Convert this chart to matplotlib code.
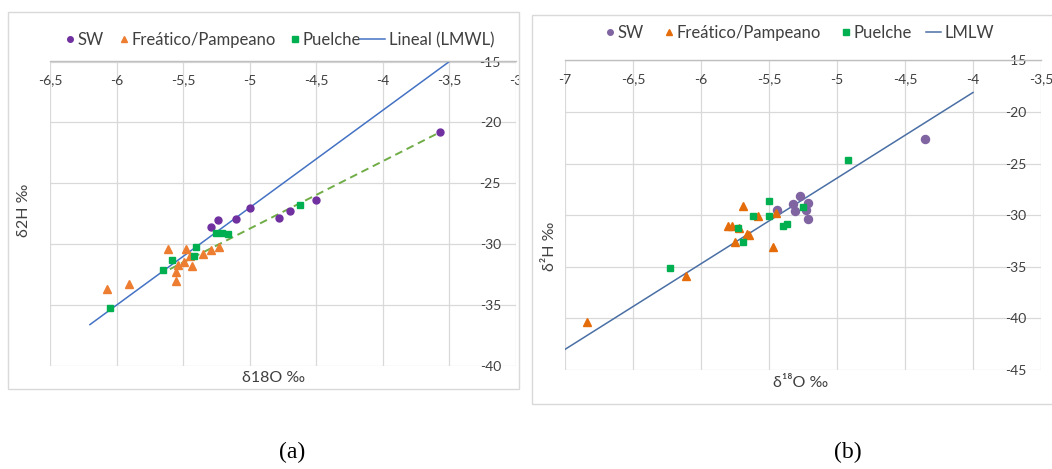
import matplotlib
matplotlib.use("Agg")
import matplotlib.pyplot as plt
from matplotlib.patches import Rectangle
from matplotlib.lines import Line2D
from matplotlib.legend_handler import HandlerLine2D
import matplotlib.transforms as mtrans

# ---------------- data: panel (a) ----------------
sw_a_x = [-5.29, -5.24, -5.10, -5.00, -4.78, -4.70, -4.50, -3.57]
sw_a_y = [-28.6, -28.0, -27.9, -27.0, -27.85, -27.3, -26.35, -20.8]
fp_a_x = [-6.07, -5.91, -5.61, -5.48, -5.45, -5.54, -5.49, -5.43, -5.55, -5.55, -5.35, -5.29, -5.23]
fp_a_y = [-33.65, -33.3, -30.4, -30.4, -31.0, -31.7, -31.5, -31.8, -32.3, -33.0, -30.8, -30.5, -30.2]
pu_a_x = [-6.05, -5.65, -5.58, -5.42, -5.40, -5.25, -5.21, -5.16, -4.62]
pu_a_y = [-35.2, -32.1, -31.3, -31.0, -30.2, -29.05, -29.05, -29.2, -26.8]
lmwl_a_x = [-6.2, -3.5]
lmwl_a_y = [-36.6, -15.0]
trend_a_x = [-5.6, -3.57]
trend_a_y = [-32.05, -20.8]
xticks_a = [-6.5, -6, -5.5, -5, -4.5, -4, -3.5, -3]
xlabels_a = ["-6,5", "-6", "-5,5", "-5", "-4,5", "-4", "-3,5", "-3"]
yticks_a = [-40, -35, -30, -25, -20, -15]
legend_a = ["SW", "Freático/Pampeano", "Puelche", "Lineal (LMWL)"]

# ---------------- data: panel (b) ----------------
sw_b_x = [-5.44, -5.32, -5.27, -5.31, -5.21, -5.23, -5.21, -4.35]
sw_b_y = [-29.5, -28.9, -28.1, -29.6, -28.8, -29.45, -30.4, -22.6]
fp_b_x = [-5.69, -5.58, -5.45, -5.80, -5.77, -5.72, -5.66, -5.65, -5.75, -5.47, -6.11, -6.84]
fp_b_y = [-29.1, -30.1, -29.8, -31.07, -31.0, -31.2, -31.8, -31.9, -32.6, -33.1, -35.9, -40.3]
pu_b_x = [-5.50, -5.62, -5.50, -5.73, -5.69, -5.40, -5.37, -5.25, -6.23, -4.92]
pu_b_y = [-28.64, -30.1, -30.1, -31.2, -32.6, -31.07, -30.8, -29.2, -35.08, -24.66]
lmlw_b_x = [-7.0, -4.0]
lmlw_b_y = [-43.0, -18.1]
xticks_b = [-7, -6.5, -6, -5.5, -5, -4.5, -4, -3.5]
xlabels_b = ["-7", "-6,5", "-6", "-5,5", "-5", "-4,5", "-4", "-3,5"]
yticks_b = [-45, -40, -35, -30, -25, -20, -15]
legend_b = ["SW", "Freático/Pampeano", "Puelche", "LMLW"]

FONT = ["Lato", "DejaVu Sans"]
plt.rcParams["font.family"] = FONT
TXT = "#404040"
GRID = "#D9D9D9"

W, H = 1052, 469
fig = plt.figure(figsize=(W / 100, H / 100), dpi=100)


def fx(px):
    return px / W


def fy(py):
    return 1 - py / H


class LongLine(HandlerLine2D):
    """Legend line that extends to the left of its handle box."""

    def __init__(self, extra_pt, **kw):
        super().__init__(**kw)
        self.extra = extra_pt

    def create_artists(self, legend, orig_handle, xdescent, ydescent, width, height,
                       fontsize, trans):
        y = height / 2 - ydescent
        ln = Line2D([-xdescent - self.extra, width - xdescent], [y, y])
        self.update_prop(ln, orig_handle, legend)
        ln.set_transform(trans)
        return [ln]


def style_axes(ax, xt, xl, yt, xlim, ylim):
    ax.set_xlim(*xlim)
    ax.set_ylim(*ylim)
    ax.set_xticks(xt)
    ax.set_xticklabels(xl)
    ax.set_yticks(yt)
    ax.set_yticklabels([str(v) for v in yt])
    ax.grid(True, color=GRID, lw=0.9)
    ax.set_axisbelow(True)
    for s in ["left", "right", "bottom"]:
        ax.spines[s].set_visible(False)
    ax.spines["top"].set_color("#BFBFBF")
    ax.spines["top"].set_linewidth(1.0)
    ax.xaxis.tick_top()
    ax.yaxis.tick_right()
    ax.tick_params(axis="x", length=0, pad=-9.4, labelsize=10, colors=TXT)
    ax.tick_params(axis="y", length=0, pad=-10.8, labelsize=10, colors=TXT)
    for lb in ax.get_xticklabels():
        lb.set_va("top")
    for lb in ax.get_yticklabels():
        lb.set_ha("right")


# ---------------- panel (a) ----------------
axa = fig.add_axes([fx(50), fy(366), fx(516 - 50), (366 - 61.5) / H])
axa.plot(lmwl_a_x, lmwl_a_y, color="#4472C4", lw=1.1, zorder=2)
axa.plot(trend_a_x, trend_a_y, color="#70AD47", lw=1.4, ls=(0, (4, 2.5)), zorder=2)
axa.plot(sw_a_x, sw_a_y, "o", color="#7030A0", ms=5.0, mec="#7030A0", zorder=3)
axa.plot(fp_a_x, fp_a_y, "^", color="#ED7D31", ms=5.8, mec="#ED7D31", zorder=3)
axa.plot(pu_a_x, pu_a_y, "s", color="#00B050", ms=4.6, mec="#00B050", zorder=4)
style_axes(axa, xticks_a, xlabels_a, yticks_a, (-6.5, -3), (-40, -15))
clipbox = mtrans.TransformedBbox(mtrans.Bbox([[0, 0], [fx(519), 1]]), fig.transFigure)
for lb in axa.get_xticklabels():
    lb.set_clip_on(True)
    lb.set_clip_box(clipbox)

h_a = [
    Line2D([], [], ls="none", marker="o", color="#7030A0", ms=4),
    Line2D([], [], ls="none", marker="^", color="#ED7D31", ms=4.5),
    Line2D([], [], ls="none", marker="s", color="#00B050", ms=3.8),
    Line2D([], [], color="#4472C4", lw=1.1),
]
fig.legend(h_a, legend_a, loc="center", bbox_to_anchor=(fx(280), fy(40)), ncol=4,
           frameon=False, fontsize=12, handlelength=0.5, handletextpad=0.2,
           columnspacing=0.95, labelcolor=TXT,
           handler_map={h_a[3]: LongLine(12.5)})

fig.text(fx(274), fy(378), "δ18O ‰", ha="center", va="center", fontsize=11.5, color=TXT)
fig.text(fx(24), fy(210), "δ2H ‰", ha="center", va="center", rotation=90, fontsize=11.5, color=TXT)

# ---------------- panel (b) ----------------
axb = fig.add_axes([fx(565), fy(370), fx(1041 - 565), (370 - 60.5) / H])
axb.plot(lmlw_b_x, lmlw_b_y, color="#4A6FA5", lw=1.1, zorder=2)
axb.plot(sw_b_x, sw_b_y, "o", color="#8064A2", ms=5.8, mec="#8064A2", zorder=3)
axb.plot(fp_b_x, fp_b_y, "^", color="#E46C0A", ms=5.8, mec="#E46C0A", zorder=3)
axb.plot(pu_b_x, pu_b_y, "s", color="#00B050", ms=4.8, mec="#00B050", zorder=4)
style_axes(axb, xticks_b, xlabels_b, yticks_b, (-7, -3.5), (-45, -15))

h_b = [
    Line2D([], [], ls="none", marker="o", color="#8064A2", ms=4),
    Line2D([], [], ls="none", marker="^", color="#E46C0A", ms=4.5),
    Line2D([], [], ls="none", marker="s", color="#00B050", ms=3.8),
    Line2D([], [], color="#4A6FA5", lw=1.1),
]
fig.legend(h_b, legend_b, loc="center", bbox_to_anchor=(fx(800), fy(33)), ncol=4,
           frameon=False, fontsize=12, handlelength=0.5, handletextpad=0.2,
           columnspacing=1.25, labelcolor=TXT,
           handler_map={h_b[3]: LongLine(5)})

fig.text(fx(801), fy(383), "δ¹⁸O ‰", ha="center", va="center", fontsize=11.5, color=TXT)
fig.text(fx(550), fy(246), "δ²H ‰", ha="center", va="center", rotation=90, fontsize=11.5, color=TXT)

# chart borders
fig.add_artist(Rectangle((fx(8), fy(389)), fx(511), (389 - 12) / H, transform=fig.transFigure,
                         fill=False, ec=GRID, lw=1.0))
fig.add_artist(Rectangle((fx(532), fy(404)), fx(530), (404 - 15) / H, transform=fig.transFigure,
                         fill=False, ec=GRID, lw=1.0))

# captions
fig.text(fx(292), fy(452), "(a)", ha="center", va="center", fontsize=17,
         family="Liberation Serif", color="black")
fig.text(fx(848), fy(452), "(b)", ha="center", va="center", fontsize=17,
         family="Liberation Serif", color="black")

fig.savefig("out.png", dpi=100)
